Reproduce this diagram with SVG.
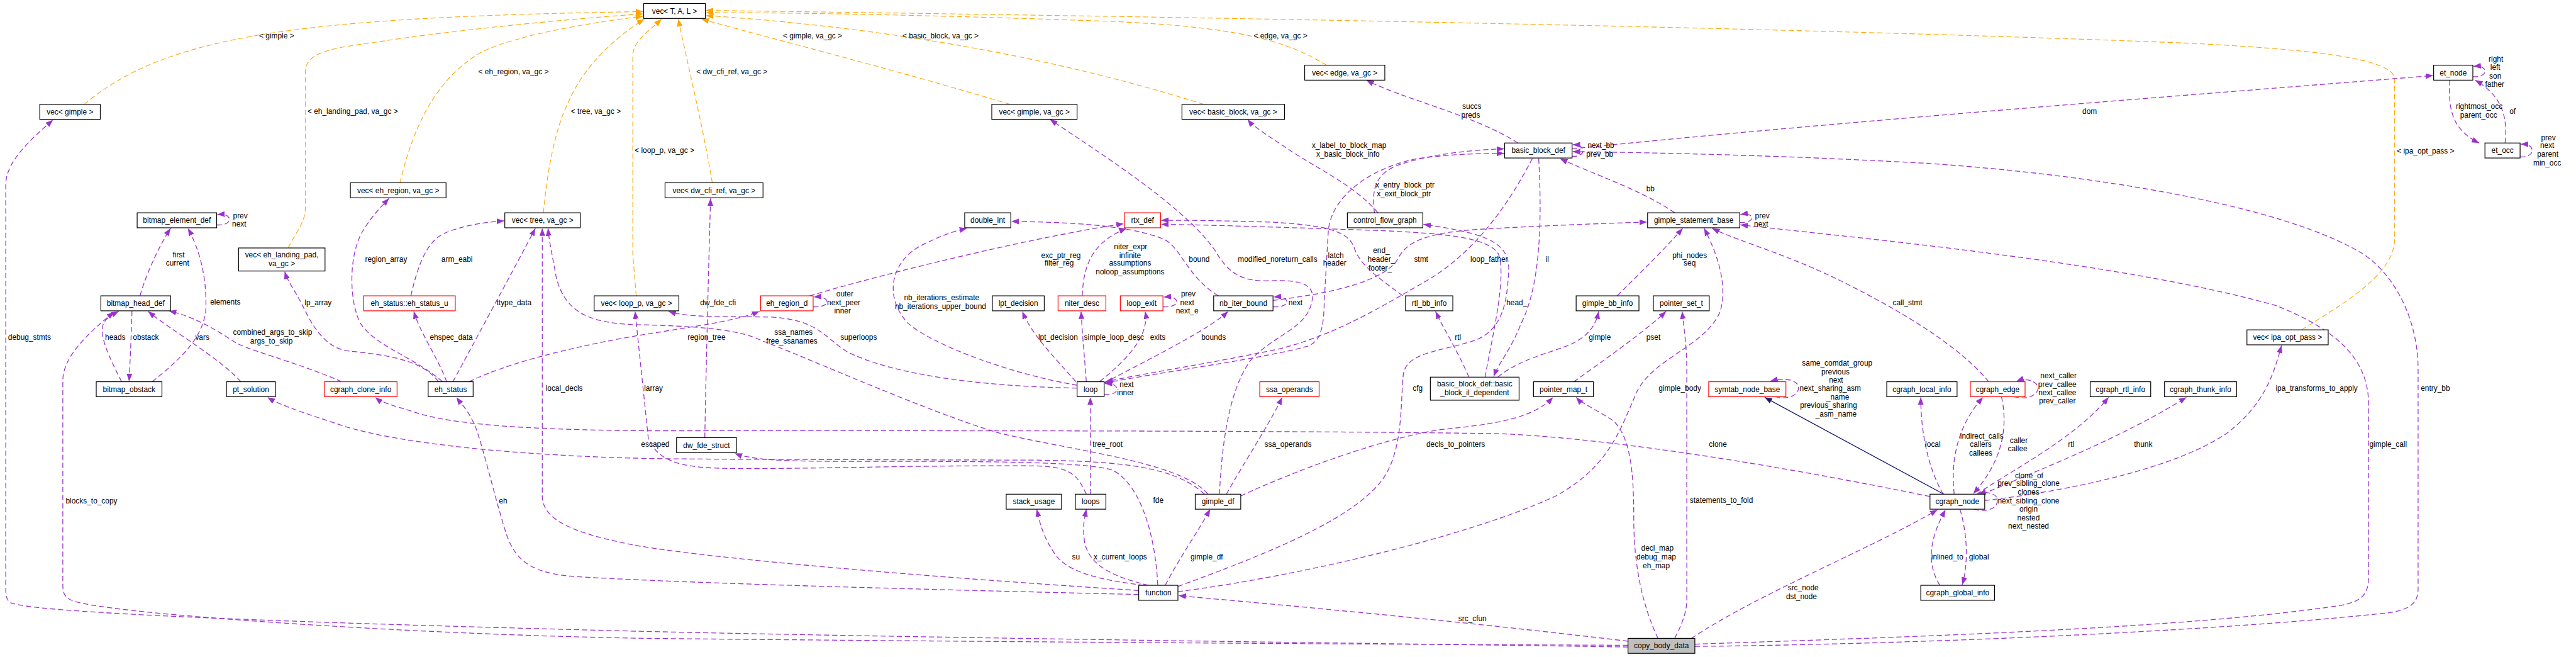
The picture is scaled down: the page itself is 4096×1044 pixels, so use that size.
<svg xmlns="http://www.w3.org/2000/svg" width="4096" height="1044" viewBox="0 0 4096 1044">
<defs>
<style>
text{font-family:"Liberation Sans",Arial,Helvetica,sans-serif;font-size:13px;fill:#000}
.node rect{fill:#fff;stroke:#000;stroke-width:1.3}
.node.red rect{stroke:#ff0000}
.node.root rect{fill:#bfbfbf}
.node text{text-anchor:middle}
.e path{fill:none;stroke:#9a32cd;stroke-width:1.4;stroke-dasharray:9,5;marker-end:url(#ap)}
.e path.o{stroke:#ffa500;stroke-width:1.2;marker-end:url(#ao)}
.e path.i{stroke:#191970;stroke-dasharray:none;marker-end:url(#an)}
.l text{text-anchor:middle}
.l text.s{text-anchor:start}
</style>
<marker id="ap" viewBox="0 0 13 10" refX="13" refY="5" markerWidth="13" markerHeight="10" markerUnits="userSpaceOnUse" orient="auto"><path d="M0,0 L13,5 L0,10 z" fill="#9a32cd"/></marker>
<marker id="ao" viewBox="0 0 13 10" refX="13" refY="5" markerWidth="13" markerHeight="10" markerUnits="userSpaceOnUse" orient="auto"><path d="M0,0 L13,5 L0,10 z" fill="#ffa500"/></marker>
<marker id="an" viewBox="0 0 13 10" refX="13" refY="5" markerWidth="13" markerHeight="10" markerUnits="userSpaceOnUse" orient="auto"><path d="M0,0 L13,5 L0,10 z" fill="#191970"/></marker>
</defs>
<rect width="4096" height="1044" fill="#fff"/>
<g transform="scale(0.91633)">
<g id="connectors" class="e">
<path class="o" d="M146,181 C290,60 520,30 1116,20"/>
<path class="o" d="M500,430 C515,400 530,385 530,360 L530,120 C535,95 560,85 640,75 C800,50 1000,32 1116,24"/>
<path class="o" d="M694,317 C715,230 750,140 836,90 C900,60 1020,40 1116,28"/>
<path class="o" d="M943,369 C950,290 965,220 985,180 C1010,120 1060,70 1118,33"/>
<path class="o" d="M1104,513 L1098,440 L1098,95 C1100,70 1125,55 1148,33"/>
<path class="o" d="M1236,317 C1220,220 1195,120 1177,33"/>
<path class="o" d="M1753,181 C1550,120 1350,70 1217,33"/>
<path class="o" d="M2089,181 C1800,90 1500,45 1225,27"/>
<path class="o" d="M2302,113 C2230,70 2150,45 1900,36 C1600,26 1400,22 1225,22"/>
<path class="o" d="M3994,572 C4060,530 4150,480 4155,420 L4155,135 C4150,100 4000,85 3800,75 C3300,55 2500,35 1225,18"/>
<path d="M2825,1122 C2500,1117 1700,1108 1120,1095 C600,1082 60,1065 18,1045 C11,1040 10,1033 10,1020 L10,320 C10,280 55,240 92,208"/>
<path d="M2825,1119 C2300,1117 1600,1112 1120,1107 C700,1100 200,1065 130,1043 C113,1038 109,1030 109,1015 L109,660 C109,620 150,580 198,541"/>
<path d="M243,513 C255,470 280,420 296,396"/>
<path d="M264,662 C310,625 350,590 357,540 C360,480 345,430 326,396"/>
<path d="M376,390 C390,391 398,386 398,381 C398,375 392,371 377,372"/>
<path d="M229,539 C228,580 226,620 224,661"/>
<path d="M211,662 C190,620 170,580 180,560 C186,550 196,545 206,540"/>
<path d="M418,662 C380,620 300,575 257,540"/>
<path d="M593,662 C520,630 440,610 410,595 C380,575 340,550 293,539"/>
<path d="M761,662 C730,620 660,615 600,608 C560,600 540,560 525,530 C510,500 500,490 494,471"/>
<path d="M768,662 C720,620 650,600 625,560 C605,520 605,440 630,400 C645,375 660,360 675,344"/>
<path d="M713,513 C725,460 740,420 770,405 C800,392 840,385 875,383"/>
<path d="M775,662 C760,620 730,580 718,540"/>
<path d="M786,662 C830,580 890,470 929,396"/>
<path d="M1976,1024 C1600,1000 1250,970 1110,947 C990,925 941,900 941,860 L941,396"/>
<path d="M2096,857 C2050,800 1850,780 1730,750 C1600,710 1400,620 1320,590 C1280,570 1200,565 1100,563 C1020,560 980,540 965,480 C958,440 953,420 951,396"/>
<path d="M1869,673 C1700,670 1550,650 1470,610 C1430,585 1420,555 1340,550 C1260,548 1200,552 1160,540"/>
<path d="M1885,857 C1870,825 1860,810 1800,808 C1600,806 1350,815 1250,812 C1170,810 1140,795 1125,760 L1102,540"/>
<path d="M2090,857 C2040,810 1950,800 1800,798 C1500,797 1250,797 1120,795 C900,790 700,770 600,740 C540,720 490,705 464,689"/>
<path d="M2009,1015 C2005,930 1980,840 1930,815 C1880,800 1700,800 1500,800 C1380,800 1310,800 1275,786"/>
<path d="M1223,759 C1226,600 1230,450 1233,344"/>
<path d="M814,662 C900,620 1050,590 1150,575 C1230,562 1280,555 1318,540"/>
<path d="M1405,513 C1550,470 1800,410 1950,388"/>
<path d="M1411,532 C1427,533 1435,528 1435,524 C1435,518 1428,514 1412,515"/>
<path d="M1869,668 C1760,650 1620,600 1575,560 C1530,510 1550,450 1600,425 C1640,405 1660,400 1678,396"/>
<path d="M2114,513 C2060,480 2050,430 2020,415 C1960,390 1850,385 1755,384"/>
<path d="M1867,662 C1830,620 1790,580 1774,540"/>
<path d="M1885,662 C1882,620 1878,580 1876,540"/>
<path d="M1908,662 C1960,620 1995,580 1987,540"/>
<path d="M1916,664 C2000,620 2100,570 2131,540"/>
<path d="M2018,532 C2034,533 2042,528 2042,524 C2042,518 2035,514 2019,515"/>
<path d="M2209,532 C2225,533 2233,528 2233,524 C2233,518 2226,514 2210,515"/>
<path d="M1916,684 C1932,685 1938,680 1938,675 C1938,669 1932,665 1917,665"/>
<path d="M1878,513 C1880,460 1895,420 1955,396"/>
<path d="M2209,521 C2300,510 2400,490 2425,450 C2440,420 2470,405 2560,398 C2700,390 2800,387 2858,385"/>
<path d="M1917,664 C2050,640 2200,620 2270,600 C2295,590 2297,560 2298,520 L2305,400 C2310,340 2380,290 2460,275 C2520,267 2570,266 2610,266"/>
<path d="M2659,275 C2620,350 2560,440 2470,490 C2400,530 2320,580 2220,605 C2100,630 2000,645 1918,662"/>
<path d="M2670,275 C2677,400 2670,500 2640,560 C2620,610 2600,630 2592,653"/>
<path d="M2577,654 C2590,580 2615,480 2600,440 C2580,410 2500,405 2400,400 C2250,395 2100,390 2015,389"/>
<path d="M2434,513 C2390,480 2360,460 2350,430 C2340,400 2300,390 2200,385 C2100,382 2050,382 2015,382"/>
<path d="M2391,369 C2350,320 2280,290 2230,255 C2200,235 2175,220 2165,207"/>
<path d="M2385,369 C2380,330 2385,300 2430,285 C2480,268 2550,260 2610,258"/>
<path d="M2634,248 C2560,200 2430,170 2371,139"/>
<path d="M2728,271 C2740,272 2747,267 2747,261 C2747,255 2740,251 2729,251"/>
<path d="M2728,258 C3200,210 3800,165 4222,131"/>
<path d="M2906,369 C2850,330 2760,300 2707,275"/>
<path d="M3019,386 C3032,386 3040,382 3040,378 C3040,373 3033,370 3020,372"/>
<path d="M2806,513 C2850,470 2890,430 2920,396"/>
<path d="M2549,654 C2530,610 2505,570 2491,540"/>
<path d="M2599,654 C2640,620 2700,610 2730,595 C2760,580 2770,560 2774,540"/>
<path d="M2731,662 C2790,620 2860,570 2891,540"/>
<path d="M2906,1107 C2920,1080 2927,1060 2927,1040 L2927,640 C2927,600 2922,570 2919,540"/>
<path d="M2877,1107 C2850,1050 2835,980 2835,900 C2835,820 2830,760 2800,730 C2770,710 2745,700 2735,689"/>
<path d="M2153,860 C2250,815 2400,760 2500,745 C2600,735 2660,725 2695,689"/>
<path d="M2044,1017 C2200,960 2350,900 2400,830 C2435,780 2430,700 2435,650 C2440,610 2500,610 2560,590 C2610,570 2615,520 2618,470 C2620,420 2580,405 2470,389"/>
<path d="M2044,1026 C2250,1000 2550,930 2700,860 C2790,810 2810,750 2840,680 C2870,620 2960,600 2985,540 C3000,490 2975,430 2957,396"/>
<path d="M2825,1112 C2600,1085 2350,1060 2045,1033"/>
<path d="M2935,1107 C3050,1030 3250,950 3362,884"/>
<path d="M3349,861 C3100,810 2800,760 2600,752 C2200,746 1500,747 1120,747 C900,745 780,735 720,715 C690,705 665,700 651,689"/>
<path d="M1976,1031 C1600,1022 1200,1012 1000,1000 C920,995 895,970 880,930 C860,870 840,780 825,740 C812,710 800,700 792,689"/>
<path d="M1985,1015 C1900,1005 1850,990 1830,960 C1810,930 1805,910 1799,883"/>
<path d="M1993,1015 C1930,1000 1890,980 1882,940 C1878,910 1882,900 1885,883"/>
<path d="M2022,1015 C2045,970 2080,920 2100,883"/>
<path d="M1892,857 L1892,689"/>
<path d="M2128,857 C2160,800 2200,740 2225,689"/>
<path d="M2116,857 C2120,780 2130,680 2170,625 C2210,580 2270,570 2277,520 C2282,490 2250,485 2200,487 C2150,488 2130,470 2110,437 C2060,360 1900,260 1822,207"/>
<path d="M3451,662 C3400,600 3300,540 3200,490 C3100,440 3020,420 2971,396"/>
<path d="M2941,1117 C3300,1105 3800,1090 4060,1050 C4100,1043 4110,1030 4110,1000 L4110,700 C4110,620 4050,570 3950,530 C3700,460 3300,420 3020,390"/>
<path d="M2941,1121 C3400,1116 3900,1090 4150,1062 C4185,1055 4196,1045 4196,1020 L4196,640 C4196,560 4160,480 4100,440 C3950,350 3600,300 3340,283 C3100,270 2900,265 2729,263"/>
<path d="M3444,868 C3600,850 3780,810 3866,750 C3930,700 3945,650 3959,599"/>
<path d="M3372,857 C3350,820 3333,760 3333,689"/>
<path d="M3391,857 C3385,800 3395,740 3441,689"/>
<path d="M3473,688 C3485,740 3475,800 3424,856"/>
<path d="M3430,857 C3500,810 3600,760 3659,689"/>
<path d="M3440,857 C3550,810 3680,760 3794,689"/>
<path d="M3425,883 C3450,890 3468,880 3466,866 C3464,856 3450,852 3433,856"/>
<path d="M3366,1015 C3345,980 3345,940 3376,884"/>
<path d="M3401,883 C3415,930 3415,980 3405,1014"/>
<path d="M3494,688 C3525,695 3540,680 3536,670 C3532,660 3515,655 3499,661"/>
<path d="M3080,688 C3110,695 3125,680 3120,668 C3115,658 3095,655 3072,661"/>
<path class="i" d="M3373,857 L3062,689"/>
<path d="M4291,133 C4305,134 4313,128 4312,123 C4311,117 4305,114 4292,115"/>
<path d="M4251,139 C4248,190 4255,225 4302,248"/>
<path d="M4347,248 C4352,200 4340,165 4295,139"/>
<path d="M4373,272 C4388,273 4395,266 4394,260 C4393,254 4387,250 4374,250"/>
</g>
<g id="labels" class="l">
<text x="480" y="67">&lt; gimple &gt;</text>
<text x="612" y="197">&lt; eh_landing_pad, va_gc &gt;</text>
<text x="891" y="129">&lt; eh_region, va_gc &gt;</text>
<text x="1034" y="197">&lt; tree, va_gc &gt;</text>
<text x="1153" y="265">&lt; loop_p, va_gc &gt;</text>
<text x="1270" y="129">&lt; dw_cfi_ref, va_gc &gt;</text>
<text x="1410" y="67">&lt; gimple, va_gc &gt;</text>
<text x="1632" y="67">&lt; basic_block, va_gc &gt;</text>
<text x="2222" y="67">&lt; edge, va_gc &gt;</text>
<text x="4209" y="266">&lt; ipa_opt_pass &gt;</text>
<text class="s" x="14" y="589">debug_stmts</text>
<text class="s" x="114" y="873">blocks_to_copy</text>
<text x="310" y="446">first</text><text x="308" y="461">current</text>
<text x="391" y="528">elements</text>
<text x="417" y="379">prev</text><text x="415" y="393">next</text>
<text x="552" y="529">lp_array</text>
<text x="670" y="454">region_array</text>
<text x="793" y="454">arm_eabi</text>
<text x="892" y="529">ttype_data</text>
<text x="200" y="589">heads</text>
<text x="253" y="589">obstack</text>
<text x="351" y="589">vars</text>
<text x="473" y="581">combined_args_to_skip</text><text x="471" y="596">args_to_skip</text>
<text x="783" y="589">ehspec_data</text>
<text x="979" y="678">local_decls</text>
<text x="1134" y="678">larray</text>
<text x="1246" y="529">dw_fde_cfi</text>
<text x="1466" y="514">outer</text><text x="1464" y="529">next_peer</text><text x="1462" y="543">inner</text>
<text x="1841" y="447">exc_ptr_reg</text><text x="1838" y="461">filter_reg</text>
<text x="1962" y="432">niter_expr</text><text x="1961" y="447">infinite</text><text x="1961" y="461">assumptions</text><text x="1961" y="476">noloop_assumptions</text>
<text x="2081" y="454">bound</text>
<text x="2217" y="454">modified_noreturn_calls</text>
<text x="1634" y="521">nb_iterations_estimate</text><text x="1632" y="536">nb_iterations_upper_bound</text>
<text x="2062" y="514">prev</text><text x="2060" y="529">next</text><text x="2060" y="543">next_e</text>
<text x="1226" y="589">region_tree</text>
<text x="1377" y="581">ssa_names</text><text x="1374" y="596">free_ssanames</text>
<text x="1490" y="589">superloops</text>
<text x="1836" y="589">lpt_decision</text>
<text x="1933" y="589">simple_loop_desc</text>
<text x="2009" y="589">exits</text>
<text x="2106" y="589">bounds</text>
<text x="1955" y="671">next</text><text x="1953" y="685">inner</text>
<text x="2318" y="447">latch</text><text x="2316" y="461">header</text>
<text x="2397" y="439">end_</text><text x="2397" y="454">header_</text><text x="2395" y="469">footer_</text>
<text x="2466" y="454">stmt</text>
<text x="2584" y="454">loop_father</text>
<text x="2685" y="454">il</text>
<text x="2932" y="447">phi_nodes</text><text x="2932" y="461">seq</text>
<text x="2248" y="529">next</text>
<text x="2632" y="529">head_</text>
<text x="3310" y="529">call_stmt</text>
<text x="2530" y="589">rtl</text>
<text x="2776" y="589">gimple</text>
<text x="2869" y="589">pset</text>
<text x="2460" y="678">cfg</text>
<text x="2915" y="678">gimple_body</text>
<text x="3188" y="634">same_comdat_group</text><text x="3185" y="649">previous</text><text x="3186" y="663">next</text><text x="3176" y="678">next_sharing_asm</text><text x="3189" y="693">_name</text><text x="3173" y="707">previous_sharing</text><text x="3186" y="722">_asm_name</text>
<text x="3572" y="656">next_caller</text><text x="3570" y="671">prev_callee</text><text x="3570" y="685">next_callee</text><text x="3570" y="700">prev_caller</text>
<text x="4020" y="678">ipa_transforms_to_apply</text>
<text x="4226" y="678">entry_bb</text>
<text x="2554" y="189">succs</text><text x="2552" y="204">preds</text>
<text x="2341" y="257">x_label_to_block_map</text><text x="2339" y="272">x_basic_block_info</text>
<text x="2778" y="257">next_bb</text><text x="2776" y="272">prev_bb</text>
<text x="2438" y="325">x_entry_block_ptr</text><text x="2436" y="340">x_exit_block_ptr</text>
<text x="2864" y="332">bb</text>
<text x="3626" y="197">dom</text>
<text x="3058" y="379">prev</text><text x="3056" y="393">next</text>
<text x="4331" y="107">right</text><text x="4330" y="121">left</text><text x="4330" y="136">son</text><text x="4329" y="151">father</text>
<text x="4302" y="189">rightmost_occ</text><text x="4301" y="204">parent_occ</text>
<text x="4360" y="197">of</text>
<text x="4422" y="243">prev</text><text x="4420" y="257">next</text><text x="4421" y="272">parent</text><text x="4420" y="287">min_occ</text>
<text x="873" y="873">eh</text>
<text x="1137" y="775">escaped</text>
<text x="1922" y="775">tree_root</text>
<text x="2010" y="872">fde</text>
<text x="1867" y="970">su</text>
<text x="1944" y="970">x_current_loops</text>
<text x="2094" y="970">gimple_df</text>
<text x="2235" y="775">ssa_operands</text>
<text x="2526" y="775">decls_to_pointers</text>
<text x="2981" y="775">clone</text>
<text x="2987" y="872">statements_to_fold</text>
<text x="2876" y="955">decl_map</text><text x="2874" y="970">debug_map</text><text x="2874" y="985">eh_map</text>
<text x="3129" y="1024">src_node</text><text x="3126" y="1039">dst_node</text>
<text x="2555" y="1077">src_cfun</text>
<text x="3354" y="775">local</text>
<text x="3439" y="761">indirect_calls</text><text x="3437" y="775">callers</text><text x="3437" y="790">callees</text>
<text x="3503" y="768">caller</text><text x="3501" y="783">callee</text>
<text x="3594" y="775">rtl</text>
<text x="3719" y="775">thunk</text>
<text x="3521" y="829">clone_of</text><text x="3520" y="843">prev_sibling_clone</text><text x="3520" y="858">clones</text><text x="3520" y="873">next_sibling_clone</text><text x="3520" y="887">origin</text><text x="3520" y="902">nested</text><text x="3520" y="917">next_nested</text>
<text x="3379" y="970">inlined_to</text>
<text x="3434" y="970">global</text>
<text x="4144" y="775">gimple_call</text>
</g>
<g id="vec_T_A_L" class="node"><rect x="1117" y="6" width="107" height="26"/><text x="1170.5" y="23.5">vec&lt; T, A, L &gt;</text></g>
<g id="vec_gimple" class="node"><rect x="69" y="181" width="105" height="26"/><text x="121.5" y="198.5">vec&lt; gimple &gt;</text></g>
<g id="vec_eh_region" class="node"><rect x="608" y="317" width="166" height="26"/><text x="691" y="334.5">vec&lt; eh_region, va_gc &gt;</text></g>
<g id="vec_dw_cfi_ref" class="node"><rect x="1154" y="317" width="170" height="26"/><text x="1239" y="334.5">vec&lt; dw_cfi_ref, va_gc &gt;</text></g>
<g id="vec_gimple_va_gc" class="node"><rect x="1721" y="181" width="148" height="26"/><text x="1795" y="198.5">vec&lt; gimple, va_gc &gt;</text></g>
<g id="vec_basic_block" class="node"><rect x="2051" y="181" width="178" height="26"/><text x="2140" y="198.5">vec&lt; basic_block, va_gc &gt;</text></g>
<g id="vec_edge" class="node"><rect x="2264" y="113" width="139" height="26"/><text x="2333.5" y="130.5">vec&lt; edge, va_gc &gt;</text></g>
<g id="basic_block_def" class="node"><rect x="2611" y="248" width="117" height="26"/><text x="2669.5" y="265.5">basic_block_def</text></g>
<g id="et_node" class="node"><rect x="4223" y="113" width="68" height="26"/><text x="4257" y="130.5">et_node</text></g>
<g id="et_occ" class="node"><rect x="4312" y="248" width="61" height="26"/><text x="4342.5" y="265.5">et_occ</text></g>
<g id="bitmap_element_def" class="node"><rect x="238" y="369" width="138" height="26"/><text x="307" y="386.5">bitmap_element_def</text></g>
<g id="vec_tree" class="node"><rect x="876" y="369" width="131" height="26"/><text x="941.5" y="386.5">vec&lt; tree, va_gc &gt;</text></g>
<g id="double_int" class="node"><rect x="1674" y="369" width="80" height="26"/><text x="1714" y="386.5">double_int</text></g>
<g id="rtx_def" class="node red"><rect x="1951" y="369" width="63" height="26"/><text x="1982.5" y="386.5">rtx_def</text></g>
<g id="control_flow_graph" class="node"><rect x="2338" y="369" width="131" height="26"/><text x="2403.5" y="386.5">control_flow_graph</text></g>
<g id="gimple_statement_base" class="node"><rect x="2859" y="369" width="160" height="26"/><text x="2939" y="386.5">gimple_statement_base</text></g>
<g id="vec_eh_landing_pad" class="node"><rect x="414" y="430" width="150" height="40"/><text x="489" y="446.5">vec&lt; eh_landing_pad,</text><text x="489" y="461.5">va_gc &gt;</text></g>
<g id="bitmap_head_def" class="node"><rect x="175" y="513" width="121" height="26"/><text x="235.5" y="530.5">bitmap_head_def</text></g>
<g id="eh_status_u" class="node red"><rect x="631" y="513" width="159" height="26"/><text x="710.5" y="530.5">eh_status::eh_status_u</text></g>
<g id="vec_loop_p" class="node"><rect x="1031" y="513" width="147" height="26"/><text x="1104.5" y="530.5">vec&lt; loop_p, va_gc &gt;</text></g>
<g id="eh_region_d" class="node red"><rect x="1320" y="513" width="91" height="26"/><text x="1365.5" y="530.5">eh_region_d</text></g>
<g id="lpt_decision" class="node"><rect x="1722" y="513" width="90" height="26"/><text x="1767" y="530.5">lpt_decision</text></g>
<g id="niter_desc" class="node red"><rect x="1836" y="513" width="83" height="26"/><text x="1877.5" y="530.5">niter_desc</text></g>
<g id="loop_exit" class="node red"><rect x="1944" y="513" width="74" height="26"/><text x="1981" y="530.5">loop_exit</text></g>
<g id="nb_iter_bound" class="node"><rect x="2106" y="513" width="103" height="26"/><text x="2157.5" y="530.5">nb_iter_bound</text></g>
<g id="rtl_bb_info" class="node"><rect x="2439" y="513" width="82" height="26"/><text x="2480" y="530.5">rtl_bb_info</text></g>
<g id="gimple_bb_info" class="node"><rect x="2735" y="513" width="109" height="26"/><text x="2789.5" y="530.5">gimple_bb_info</text></g>
<g id="pointer_set_t" class="node"><rect x="2869" y="513" width="97" height="26"/><text x="2917.5" y="530.5">pointer_set_t</text></g>
<g id="vec_ipa_opt_pass" class="node"><rect x="3899" y="572" width="141" height="26"/><text x="3969.5" y="589.5">vec&lt; ipa_opt_pass &gt;</text></g>
<g id="bitmap_obstack" class="node"><rect x="167" y="662" width="114" height="26"/><text x="224" y="679.5">bitmap_obstack</text></g>
<g id="pt_solution" class="node"><rect x="393" y="662" width="85" height="26"/><text x="435.5" y="679.5">pt_solution</text></g>
<g id="cgraph_clone_info" class="node red"><rect x="563" y="662" width="126" height="26"/><text x="626" y="679.5">cgraph_clone_info</text></g>
<g id="eh_status" class="node"><rect x="743" y="662" width="78" height="26"/><text x="782" y="679.5">eh_status</text></g>
<g id="loop" class="node"><rect x="1869" y="662" width="47" height="26"/><text x="1892.5" y="679.5">loop</text></g>
<g id="ssa_operands" class="node red"><rect x="2186" y="662" width="103" height="26"/><text x="2237.5" y="679.5">ssa_operands</text></g>
<g id="basic_block_il_dependent" class="node"><rect x="2482" y="654" width="154" height="40"/><text x="2559" y="670.5">basic_block_def::basic</text><text x="2559" y="685.5">_block_il_dependent</text></g>
<g id="pointer_map_t" class="node"><rect x="2661" y="662" width="104" height="26"/><text x="2713" y="679.5">pointer_map_t</text></g>
<g id="symtab_node_base" class="node red"><rect x="2965" y="662" width="134" height="26"/><text x="3032" y="679.5">symtab_node_base</text></g>
<g id="cgraph_local_info" class="node"><rect x="3274" y="662" width="122" height="26"/><text x="3335" y="679.5">cgraph_local_info</text></g>
<g id="cgraph_edge" class="node red"><rect x="3419" y="662" width="95" height="26"/><text x="3466.5" y="679.5">cgraph_edge</text></g>
<g id="cgraph_rtl_info" class="node"><rect x="3627" y="662" width="105" height="26"/><text x="3679.5" y="679.5">cgraph_rtl_info</text></g>
<g id="cgraph_thunk_info" class="node"><rect x="3756" y="662" width="125" height="26"/><text x="3818.5" y="679.5">cgraph_thunk_info</text></g>
<g id="dw_fde_struct" class="node"><rect x="1174" y="759" width="104" height="26"/><text x="1226" y="776.5">dw_fde_struct</text></g>
<g id="stack_usage" class="node"><rect x="1746" y="857" width="96" height="26"/><text x="1794" y="874.5">stack_usage</text></g>
<g id="loops" class="node"><rect x="1866" y="857" width="53" height="26"/><text x="1892.5" y="874.5">loops</text></g>
<g id="gimple_df" class="node"><rect x="2074" y="857" width="79" height="26"/><text x="2113.5" y="874.5">gimple_df</text></g>
<g id="cgraph_node" class="node"><rect x="3349" y="857" width="95" height="26"/><text x="3396.5" y="874.5">cgraph_node</text></g>
<g id="function" class="node"><rect x="1976" y="1015" width="68" height="26"/><text x="2010" y="1032.5">function</text></g>
<g id="cgraph_global_info" class="node"><rect x="3333" y="1015" width="128" height="26"/><text x="3397" y="1032.5">cgraph_global_info</text></g>
<g id="copy_body_data" class="node root"><rect x="2825" y="1107" width="116" height="26"/><text x="2883" y="1124.5">copy_body_data</text></g>
</g>
</svg>
